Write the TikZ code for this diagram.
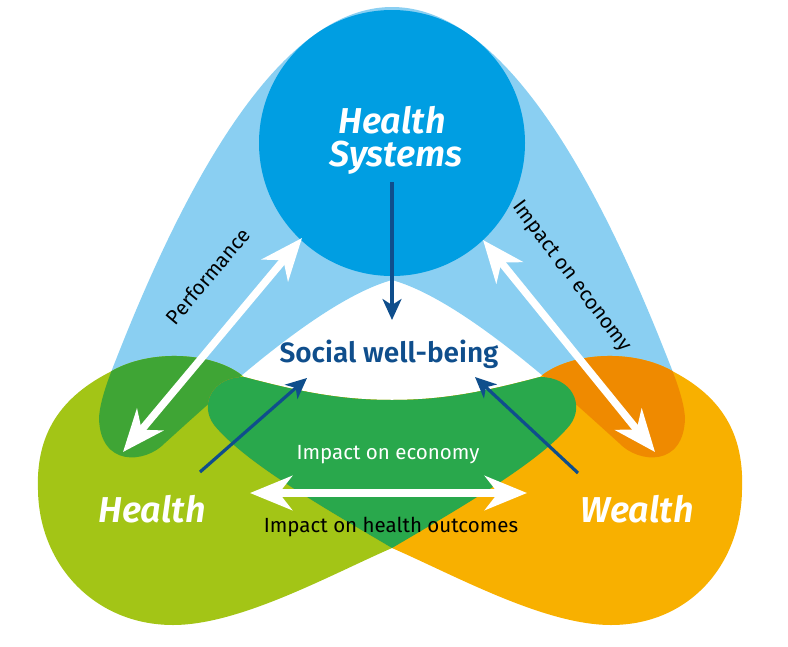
\documentclass[tikz,border=0pt]{standalone}
\usepackage{fontspec}
\setmainfont{Fira Sans}[BoldFont={Fira Sans SemiBold}, BoldItalicFont={Fira Sans SemiBold Italic}]
\usetikzlibrary{arrows.meta}
\definecolor{lblue}{HTML}{8ACFF2}
\definecolor{cblue}{HTML}{009EE2}
\definecolor{ygreen}{HTML}{A3C516}
\definecolor{dgreen}{HTML}{3FA535}
\definecolor{mgreen}{HTML}{29A84C}
\definecolor{orng}{HTML}{F8B000}
\definecolor{dorng}{HTML}{EF8A00}
\definecolor{dblue}{HTML}{0F4E8C}
\begin{document}
\begin{tikzpicture}[x=1pt,y=-1pt,
  archp/.style={insert path={(392,7) .. controls (300.3,7) and (208.7,123.7) .. (117,357)
     .. controls (109,377) and (100,400) .. (99,418)
     .. controls (100,467) and (145,464) .. (165,443)
     .. controls (215,398) and (320,300) .. (392,280)
     .. controls (464,300) and (569,398) .. (619,443)
     .. controls (639,464) and (684,467) .. (685,418)
     .. controls (684,400) and (675,377) .. (667,357)
     .. controls (575.3,123.7) and (483.7,7) .. (392,7) -- cycle}},
  greenp/.style={insert path={(392,548) .. controls (460,508) and (540,462) .. (570,425)
     .. controls (585,405) and (572,377) .. (540,377)
     .. controls (480,393) and (440,400) .. (392,400)
     .. controls (344,400) and (304,393) .. (244,377)
     .. controls (215,352) and (150,348) .. (110,372)
     .. controls (55,400) and (36,440) .. (38,490)
     .. controls (39,565) and (95,625) .. (173,625)
     .. controls (240,625) and (330,575) .. (392,548) -- cycle}},
  orangep/.style={insert path={(392,548) .. controls (324,508) and (244,462) .. (214,425)
     .. controls (199,405) and (212,377) .. (244,377)
     .. controls (304,393) and (344,400) .. (392,400)
     .. controls (440,400) and (480,393) .. (540,377)
     .. controls (569,352) and (634,348) .. (674,372)
     .. controls (727,400) and (744,440) .. (742,490)
     .. controls (741,565) and (689,625) .. (611,625)
     .. controls (544,625) and (454,575) .. (392,548) -- cycle}},
  midp/.style={insert path={(392,548) .. controls (460,508) and (540,462) .. (570,425)
     .. controls (585,405) and (572,377) .. (540,377)
     .. controls (480,393) and (440,400) .. (392,400)
     .. controls (344,400) and (304,393) .. (244,377)
     .. controls (212,377) and (199,405) .. (214,425)
     .. controls (244,462) and (324,508) .. (392,548) -- cycle}},
  wharrow/.style={draw=white, line width=7.5pt,
     {Stealth[length=42pt,width=34pt,inset=13pt]}-{Stealth[length=42pt,width=34pt,inset=13pt]}},
  dbarrow/.style={draw=dblue, line width=3.2pt, -{Stealth[length=21pt,width=19pt,inset=6pt]}},
  bigtxt/.style={text=white, inner sep=0pt, anchor=base, font=\fontsize{36}{36}\selectfont\bfseries\itshape},
  smalltxt/.style={inner sep=0pt, font=\fontsize{20.5}{21}\selectfont}
]
\useasboundingbox (0,0) rectangle (788,646);
% shapes
\fill[lblue, archp];
\fill[ygreen, greenp];
\fill[orng, orangep];
\begin{scope}
  \clip[archp];
  \fill[dgreen, greenp];
  \fill[dorng, orangep];
\end{scope}
\fill[mgreen, midp];
\fill[cblue] (392,143) circle[radius=133];
% coordinates
\coordinate (perfLow) at (123,452);
\coordinate (perfHigh) at (302,238);
\coordinate (econHigh) at (483,240);
\coordinate (econLow) at (655,452);
\coordinate (hoLeft) at (250,493);
\coordinate (hoRight) at (527,493);
\coordinate (hsFoot) at (392,182);
\coordinate (swTop) at (392,320);
\coordinate (hFoot) at (200,472);
\coordinate (swLeft) at (307,378);
\coordinate (wFoot) at (578,473);
\coordinate (swRight) at (475,377);
% texts
\node[bigtxt] (hs1) at (392,133) {Health};
\node[bigtxt] (hs2) at (396,166) {Systems};
\node[bigtxt] (health) at (152,522) {Health};
\node[bigtxt] (wealth) at (637,522) {Wealth};
\node[inner sep=0pt, anchor=base, text=dblue, font=\fontsize{28}{28}\selectfont\bfseries] (sw) at (389,362) {Social well-being};
\node[smalltxt, text=white, anchor=base] (ie) at (388,459) {Impact on economy};
\node[smalltxt, text=black, anchor=base] (iho) at (391,532) {Impact on health outcomes};
\node[smalltxt, text=black, rotate=50] (perf) at (208,276) {Performance};
\node[smalltxt, text=black, rotate=-53] (ie2) at (571,277) {Impact on economy};
% arrows
\draw[wharrow] (perfLow) -- (perfHigh);
\draw[wharrow] (econHigh) -- (econLow);
\draw[wharrow] (hoLeft) -- (hoRight);
\draw[dbarrow] (hsFoot) -- (swTop);
\draw[dbarrow] (hFoot) -- (swLeft);
\draw[dbarrow] (wFoot) -- (swRight);
\end{tikzpicture}
\end{document}
